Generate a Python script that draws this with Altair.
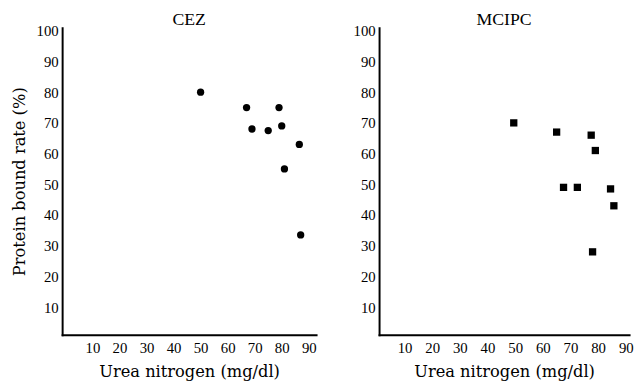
import altair as alt
import pandas as pd

cez_x = [50, 67, 79, 69, 75, 80, 86.5, 81, 87]
cez_y = [80, 75, 75, 68, 67.5, 69, 63, 55, 33.5]
mcipc_x = [49.5, 65, 77.5, 79, 67.5, 72.5, 84.5, 85.7, 78]
mcipc_y = [70, 67, 66, 61, 49, 49, 48.5, 43, 28]

x_ticks = [10, 20, 30, 40, 50, 60, 70, 80, 90]
y_ticks = [10, 20, 30, 40, 50, 60, 70, 80, 90, 100]

FONT = "Liberation Serif"
TFONT = "DejaVu Serif"

cez = pd.DataFrame({"x": cez_x, "y": cez_y})
mcipc = pd.DataFrame({"x": mcipc_x, "y": mcipc_y})


def panel(df, title, shape, xdom, width, ytitle):
    return alt.Chart(df, title=alt.TitleParams(title, fontSize=18, font=FONT, fontWeight="normal", offset=-5)).mark_point(
        shape=shape, filled=True, color="black", size=55, opacity=1
    ).encode(
        x=alt.X("x:Q", scale=alt.Scale(domain=xdom, nice=False, zero=False),
                axis=alt.Axis(values=x_ticks, title="Urea nitrogen (mg/dl)", grid=False, ticks=False,
                              domainColor="black", domainWidth=2, labelFont=FONT, labelFontSize=15,
                              labelColor="black", titleFont=TFONT, titleFontSize=16.5, titleFontWeight="normal",
                              titleColor="black", labelPadding=6, titlePadding=8, labelFlush=False)),
        y=alt.Y("y:Q", scale=alt.Scale(domain=[1, 101], nice=False, zero=False),
                axis=alt.Axis(values=y_ticks, title=ytitle, grid=False, ticks=False,
                              domainColor="black", domainWidth=2, labelFont=FONT, labelFontSize=15,
                              labelColor="black", titleFont=TFONT, titleFontSize=16.5, titleFontWeight="normal",
                              titleColor="black", labelPadding=4, titlePadding=9, labelFlush=False)),
    ).properties(width=width, height=312)


left = panel(cez, "CEZ", "circle", [-1.2, 92.7], 258, "Protein bound rate (%)")
right = panel(mcipc, "MCIPC", "square", [0.8, 91.2], 254, None)

chart = alt.hconcat(left, right, spacing=36).properties(
    padding={"left": 3, "top": 0, "right": 0, "bottom": 0}
).configure_view(stroke=None).configure_axis(domainCap="square")

chart.save("out.html", embed_options={"renderer": "svg", "actions": False})
